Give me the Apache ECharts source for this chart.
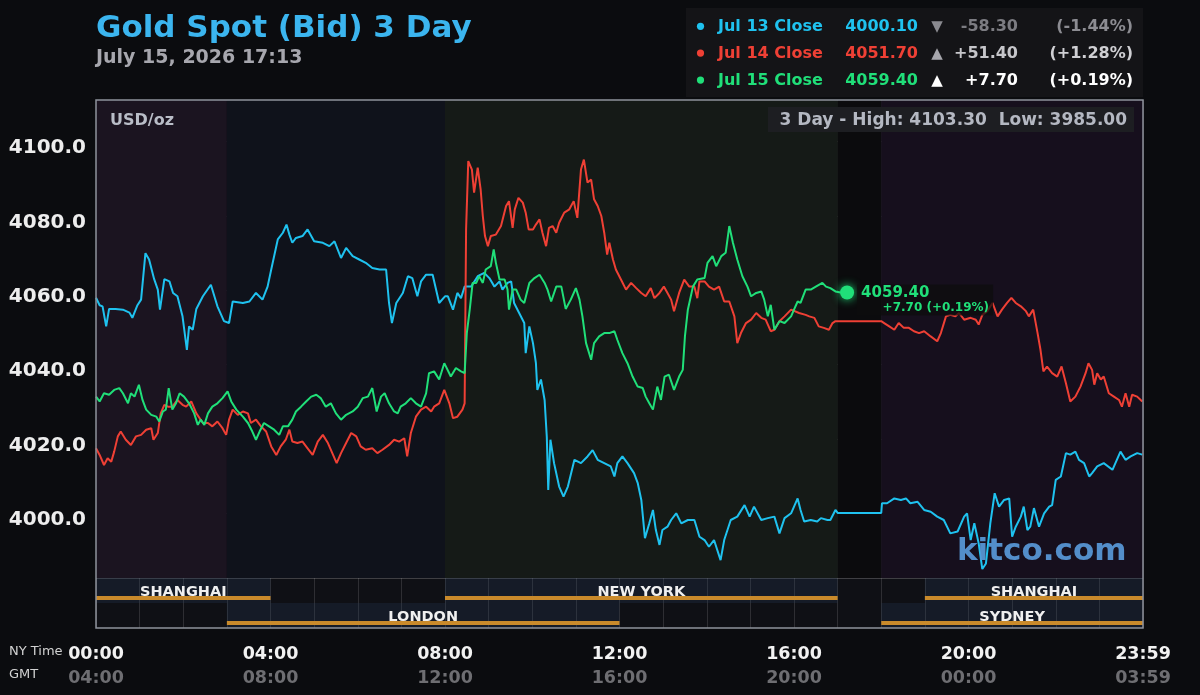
<!DOCTYPE html>
<html>
<head>
<meta charset="utf-8">
<title>Gold Spot (Bid) 3 Day</title>
<script src="https://cdn.jsdelivr.net/npm/echarts@6.0.0/dist/echarts.min.js"></script>
<style>
  html, body { margin: 0; padding: 0; background: #0b0c0f; }
  #chart { width: 1200px; height: 695px; }
</style>
</head>
<body>
<div id="chart"></div>
<script>
  /* ---------- data ---------- */
  // [minutes after 00:00 NY time, price]
  var jul13 = [
    [0,4058],[5,4056],[9,4055.7],[14,4050.3],[18,4055],[27,4055],[37,4054.8],[46,4054],[50,4052.6],[57,4056],
    [62,4057.5],[68,4070],[73,4068.3],[80,4063],[85,4060.2],[88,4054.8],[94,4063],[101,4062.4],[106,4059.3],[112,4058.4],
    [119,4053],[125,4044],[128,4050.3],[133,4049.4],[138,4055],[147,4058.4],[158,4061.5],[167,4055.7],[176,4051.7],[183,4051.2],
    [188,4057],[202,4056.6],[211,4057],[220,4059.3],[229,4057.5],[236,4061],[241,4065.6],[250,4073.7],[257,4075.5],[262,4077.7],
    [266,4075],[270,4072.8],[275,4074.1],[284,4074.6],[291,4076.4],[300,4073.2],[312,4072.8],[321,4071.9],[328,4073.2],[337,4068.7],
    [344,4071.4],[353,4069.2],[362,4068.3],[371,4067.4],[380,4066],[390,4065.6],[399,4065.6],[403,4056.6],[407,4051.2],[413,4056.6],
    [422,4059.3],[429,4063.8],[435,4063.3],[442,4058.4],[447,4062.4],[454,4064.2],[463,4064.2],[472,4056.6],[480,4058.4],
    [484,4058.4],[491,4054.8],[497,4059.3],[502,4057.9],[507,4061],[516,4061],[525,4063.8],[534,4064.7],[541,4063.3],[548,4061],
    [555,4062.4],[559,4060.2],[566,4062],[571,4062.4],[575,4056.6],[582,4053.9],[589,4051.2],[591,4043.1],[596,4050.3],[601,4045.8],
    [605,4040.5],[607,4033.2],[612,4036],[617,4030.5],[620,4020.6],[622,4006.3],[625,4019.8],[630,4013.5],[637,4007.2],[643,4004.5],
    [649,4007.2],[658,4014.4],[667,4013.5],[676,4015.3],[683,4017],[690,4014.4],[699,4013.5],[708,4012.6],[713,4009.9],[717,4013.5],
    [724,4015.3],[731,4013.5],[740,4010.8],[745,4008.2],[750,4003.6],[755,3993.3],[761,3997.3],[766,4000.9],[770,3995.5],[775,3991.5],
    [779,3995.5],[786,3996.4],[791,3998.2],[798,4000],[805,3997.3],[814,3998.2],[823,3998.2],[830,3993.7],[837,3992.8],[843,3991],
    [850,3992.8],[859,3987.4],[864,3992.8],[873,3998.2],[882,3999.1],[892,4002.2],[899,3999.1],[905,4001.8],[915,3998.2],[924,3998.7],
    [933,3999.1],[940,3994.6],[947,3998.7],[956,4000],[965,4004],[969,4000.9],[974,3997.8],[983,3998.2],[992,3997.8],[997,3998.7],
    [1006,3998.2],[1010,3998.2],[1017,4000.9],[1020,4000.1],[1080,4000.1],[1081,4002.7],[1088,4002.7],[1098,4004],[1107,4003.6],[1114,4004],
    [1120,4002.7],[1130,4003.1],[1139,4000.9],[1148,4000.4],[1157,3999.1],[1166,3998.2],[1175,3994.6],[1185,3995.1],[1194,3999.1],[1198,4000],
    [1203,3992.8],[1208,3997.3],[1214,3991.9],[1219,3985],[1224,3986.5],[1230,3997.3],[1236,4005.4],[1242,4001.8],[1249,4003.6],[1256,4004],
    [1260,3993.7],[1265,3996.4],[1272,3999.1],[1276,4001.8],[1281,3995.5],[1285,3996.4],[1290,4001.4],[1297,3996.4],[1304,4000],[1311,4001.8],
    [1315,4002.2],[1320,4009],[1327,4009.9],[1334,4016.2],[1340,4015.8],[1347,4016.6],[1352,4014.4],[1359,4013.5],[1366,4009.9],[1370,4010.8],
    [1377,4012.6],[1386,4013.5],[1398,4011.7],[1409,4016.6],[1416,4014.4],[1423,4015.3],[1432,4016.2],[1439,4015.8]
  ];

  var jul14 = [
    [0,4017.5],[5,4015.7],[11,4013],[16,4014.8],[21,4013.9],[25,4016.6],[30,4020.7],[34,4022],[41,4019.8],[48,4018.4],
    [55,4020.7],[62,4021.1],[69,4022.5],[76,4022.9],[79,4019.8],[85,4021.6],[89,4026.9],[94,4029.2],[99,4028.7],[105,4028.7],
    [112,4030.5],[119,4029.2],[124,4028.7],[131,4030.1],[138,4026.9],[147,4024.3],[154,4024.3],[160,4023.4],[167,4024.7],[174,4022.9],
    [179,4021.1],[183,4025.2],[188,4027.9],[195,4026.5],[202,4027.4],[209,4026.9],[213,4024.3],[220,4025.2],[227,4023.4],[234,4022],
    [241,4018],[248,4015.7],[254,4018],[261,4019.8],[266,4022.5],[270,4019.3],[277,4018.9],[284,4019.3],[291,4017.5],[298,4015.7],
    [305,4019.3],[312,4021.1],[319,4018.9],[325,4016.2],[331,4013.5],[337,4016.2],[344,4018.9],[351,4021.6],[358,4020.7],[364,4018],
    [371,4017.1],[380,4017.5],[387,4016.2],[394,4017.1],[403,4018.4],[410,4019.8],[417,4019.3],[424,4020.2],[428,4015.3],[433,4021.6],
    [440,4026],[447,4027.9],[454,4028.7],[461,4027.4],[465,4028.7],[472,4029.6],[479,4033.2],[481,4033.2],[486,4029.6],[491,4025.6],
    [497,4026],[504,4027.9],[507,4029.6],[509,4076.4],[512,4094.8],[517,4092.5],[520,4086.3],[525,4093],[529,4087.2],[532,4080],
    [535,4074.6],[539,4071.9],[543,4074.6],[550,4075],[557,4077.3],[564,4082.7],[568,4084],[573,4076.8],[576,4081.8],[581,4084.9],
    [587,4083.6],[591,4080.9],[595,4076.4],[601,4076.4],[605,4077.7],[610,4079.1],[614,4075.5],[619,4071.9],[623,4076.8],[628,4077.3],
    [633,4075.5],[637,4078.2],[644,4080.9],[651,4081.8],[657,4084],[662,4079.5],[667,4092.5],[671,4095.2],[676,4089],[681,4089.8],
    [685,4084.5],[690,4082.7],[695,4080],[699,4075.5],[703,4069.6],[706,4072.8],[711,4068.3],[715,4065.6],[722,4062.9],[729,4060.2],
    [736,4062],[743,4060.6],[750,4059.3],[756,4058.4],[763,4060.6],[768,4057.9],[775,4059.3],[781,4061],[786,4059.3],[791,4057.5],
    [795,4054.4],[802,4059.3],[809,4062.9],[816,4061],[823,4061],[827,4057.9],[830,4062.4],[837,4062.4],[843,4061],[850,4060.2],
    [857,4061],[864,4057],[871,4057],[878,4053],[882,4045.8],[887,4048.5],[894,4051.2],[901,4052.1],[908,4053.9],[915,4052.6],
    [921,4052.1],[928,4049],[933,4049.4],[940,4051.7],[947,4053],[956,4054.8],[967,4053.9],[976,4053.4],[981,4053],[988,4052.6],
    [994,4050.3],[1001,4049.9],[1008,4049.4],[1013,4051.2],[1017,4051.7],[1080,4051.7],[1084,4051.2],[1091,4050.3],[1098,4049.4],[1104,4051.2],
    [1111,4049.9],[1118,4049.9],[1125,4049],[1132,4048.5],[1139,4049],[1148,4047.6],[1157,4046.3],[1162,4048.5],[1169,4053],[1175,4053.4],
    [1182,4053],[1187,4053.9],[1194,4052.1],[1203,4052.6],[1210,4052.1],[1214,4050.8],[1219,4053.4],[1226,4054.4],[1233,4056.6],[1240,4053],
    [1246,4054.8],[1253,4056.6],[1259,4058],[1265,4056.6],[1272,4055.7],[1279,4054.4],[1283,4053],[1289,4054.8],[1295,4048.5],[1299,4044],
    [1303,4038.2],[1308,4039.5],[1315,4037.7],[1322,4036.8],[1328,4039.5],[1334,4035],[1340,4030.1],[1347,4031.4],[1354,4034.1],[1361,4037.7],
    [1365,4040.4],[1370,4038.6],[1373,4034.6],[1377,4037.7],[1382,4036],[1386,4036.8],[1393,4032.3],[1400,4031.4],[1407,4030.5],[1411,4028.7],
    [1416,4032.3],[1421,4028.7],[1425,4031.9],[1432,4031.4],[1439,4030.1]
  ];

  var jul15 = [
    [0,4031.4],[5,4030.1],[11,4032.3],[18,4031.9],[25,4033.2],[32,4033.7],[37,4032.3],[44,4029.6],[48,4032.3],[53,4031.4],
    [59,4034.6],[64,4030.5],[69,4027.9],[76,4026.5],[83,4026],[87,4024.7],[92,4027.4],[96,4027.9],[100,4033.7],[105,4027.9],
    [110,4029.6],[115,4032.3],[121,4031.4],[128,4029.6],[135,4026.9],[140,4023.8],[144,4025.2],[149,4023.8],[154,4026.9],[160,4028.7],
    [167,4029.6],[174,4031],[181,4032.8],[186,4030.1],[193,4027.9],[202,4026],[209,4024.3],[215,4022],[220,4019.8],[225,4022],
    [231,4024.3],[238,4023.4],[245,4022.5],[252,4021.1],[257,4023.4],[264,4023.4],[270,4025.2],[275,4027.4],[282,4028.7],[289,4030.1],
    [296,4031.4],[303,4031.9],[309,4031],[316,4028.7],[323,4029.6],[330,4026.9],[337,4025.2],[344,4026.5],[353,4027.4],[360,4028.7],
    [367,4031],[374,4031.4],[380,4033.7],[386,4027.4],[392,4031.4],[397,4032.3],[403,4029.6],[410,4027.4],[415,4026.9],[419,4028.7],
    [426,4029.6],[433,4031],[440,4029.6],[447,4028.7],[454,4032.3],[458,4037.7],[465,4038.2],[472,4036],[479,4040.4],[481,4040.5],
    [488,4036.8],[495,4039.1],[502,4038.2],[507,4037.7],[510,4048.5],[514,4054.8],[518,4062],[523,4062],[527,4063.8],[532,4062],
    [536,4065.6],[543,4066.5],[547,4071],[550,4067.4],[555,4062.9],[562,4062.9],[566,4060.2],[568,4054.8],[573,4060.2],[578,4060.2],
    [584,4057.5],[589,4056.6],[596,4062],[603,4063.3],[610,4064.2],[617,4062],[621,4060.2],[626,4057],[633,4061],[640,4061],
    [646,4055],[653,4057.5],[660,4060.6],[665,4057.5],[669,4053],[674,4045.8],[681,4041.3],[685,4045.8],[692,4047.6],[699,4048.5],
    [706,4048.5],[713,4049],[717,4046.7],[724,4043.1],[731,4040.4],[738,4036.8],[745,4034.1],[752,4033.7],[756,4031.4],[761,4029.6],
    [766,4027.9],[772,4034.1],[777,4030.5],[782,4036.8],[788,4037.3],[795,4033.2],[802,4036.8],[807,4038.6],[810,4047.6],[814,4054.8],
    [821,4061],[827,4062.9],[837,4063.3],[841,4067.4],[848,4069.2],[853,4066.5],[860,4069.2],[866,4070.1],[871,4077.3],[876,4072.8],
    [882,4068.3],[889,4063.8],[896,4061],[901,4058.4],[908,4059.3],[915,4059.7],[919,4057.5],[924,4053],[928,4056.1],[933,4049.4],
    [940,4051.7],[947,4051.2],[956,4053],[960,4054.8],[965,4057],[969,4056.6],[976,4060.2],[983,4060.2],[990,4061],[999,4062],
    [1004,4061],[1010,4060.6],[1017,4059.7],[1024,4059.4],[1033,4059.4]
  ];

  var nyTimeLabels = ['00:00', '04:00', '08:00', '12:00', '16:00', '20:00', '23:59'];
  var gmtTimeLabels = ['04:00', '08:00', '12:00', '16:00', '20:00', '00:00', '03:59'];

  var closeNames = ['Jul 13 Close', 'Jul 14 Close', 'Jul 15 Close'];
  var closeValues = ['4000.10', '4051.70', '4059.40'];
  var closeArrows = ['\u25BC', '\u25B2', '\u25B2'];
  var closeChanges = ['-58.30', '+51.40', '+7.70'];
  var closePercents = ['(-1.44%)', '(+1.28%)', '(+0.19%)'];

  // trading sessions: [row, start minute, end minute]
  var sessions = [
    { name: 'SHANGHAI', value: [0, 0, 240] },
    { name: 'NEW YORK', value: [0, 480, 1020] },
    { name: 'SHANGHAI', value: [0, 1140, 1440] },
    { name: 'LONDON', value: [1, 180, 720] },
    { name: 'SYDNEY', value: [1, 1080, 1440] }
  ];
  // background bands of the price area: [start minute, end minute]
  var shadeRanges = [[0, 180], [180, 480], [480, 1020], [1020, 1080], [1080, 1440]];

  var titleText = 'Gold Spot (Bid) 3 Day';
  var dateText = 'July 15, 2026 17:13';
  var unitText = 'USD/oz';
  var rangeText = '3 Day - High: 4103.30  Low: 3985.00';

  /* ---------- styles ---------- */
  var FONT = '"DejaVu Sans", Verdana, sans-serif';
  var lineColors = ['#1fc2ef', '#ef4035', '#20df79'];
  var shadeColors = ['#1b1420', '#0f121b', '#151a17', '#0b0b0d', '#160f1d'];
  var changeColors = ['#7c7c82', '#c6c6ca', '#ffffff'];
  var pctColors = ['#8c8c92', '#cfcfd3', '#ffffff'];
  var arrowColors = ['#8a8a90', '#a6a6ac', '#ffffff'];
  var gridColor = 'rgba(255,255,255,0.13)';

  var PLOT_L = 96, PLOT_R = 1143, PLOT_T = 100, PLOT_B = 628;

  function renderSession(params, api) {
    var row = api.value(0);
    var a = api.coord([api.value(1), row]);
    var b = api.coord([api.value(2), row]);
    var h = api.size([0, 1])[1];
    var top = a[1] - h / 2;
    var w = b[0] - a[0];
    return {
      type: 'group',
      children: [
        { type: 'rect', shape: { x: a[0], y: top, width: w, height: h }, style: { fill: 'rgba(40,60,92,0.26)' } },
        { type: 'rect', shape: { x: a[0], y: top + h - 7, width: w, height: 4 }, style: { fill: '#c98a2b' } },
        {
          type: 'text', x: (a[0] + b[0]) / 2, y: top + 14.7,
          style: {
            text: sessions[params.dataIndex].name, align: 'center', verticalAlign: 'middle',
            fill: '#f0f0f0', font: 'bold 14.5px ' + FONT
          }
        }
      ]
    };
  }

  // legend (top right)
  var legendRowsY = [27.3, 54.1, 81.1];
  var legendGraphics = [
    { type: 'rect', shape: { x: 686, y: 8, width: 457, height: 89 }, style: { fill: '#141417' }, z: 5 }
  ];
  closeNames.forEach(function (name, i) {
    var y = legendRowsY[i];
    legendGraphics.push(
      { type: 'circle', shape: { cx: 700.5, cy: y - 1, r: 3.6 }, style: { fill: lineColors[i] }, z: 6 },
      { type: 'text', x: 718, y: y, style: { text: name, fill: lineColors[i], font: 'bold 16px ' + FONT, verticalAlign: 'middle' }, z: 6 },
      { type: 'text', x: 918, y: y, style: { text: closeValues[i], fill: lineColors[i], font: 'bold 16px ' + FONT, align: 'right', verticalAlign: 'middle' }, z: 6 },
      { type: 'text', x: 937, y: y, style: { text: closeArrows[i], fill: arrowColors[i], font: 'bold 15px ' + FONT, align: 'center', verticalAlign: 'middle' }, z: 6 },
      { type: 'text', x: 1018, y: y, style: { text: closeChanges[i], fill: changeColors[i], font: 'bold 16px ' + FONT, align: 'right', verticalAlign: 'middle' }, z: 6 },
      { type: 'text', x: 1133, y: y, style: { text: closePercents[i], fill: pctColors[i], font: 'bold 16px ' + FONT, align: 'right', verticalAlign: 'middle' }, z: 6 }
    );
  });

  var chart = echarts.init(document.getElementById('chart'));

  var lastPoint = jul15[jul15.length - 1];

  var option = {
    backgroundColor: '#0b0c0f',
    animation: false,
    textStyle: { fontFamily: FONT },
    grid: [
      { left: PLOT_L, right: 1200 - PLOT_R, top: PLOT_T, height: 478 },
      { left: PLOT_L, right: 1200 - PLOT_R, top: 578, height: PLOT_B - 578, show: true, backgroundColor: '#0f1015', borderWidth: 0 }
    ],
    xAxis: [
      {
        gridIndex: 0, type: 'value', min: 0, max: 1440, interval: 60, z: 1,
        axisLine: { show: false }, axisTick: { show: false }, axisLabel: { show: false },
        splitLine: { show: true, lineStyle: { color: gridColor, width: 1 } }
      },
      {
        gridIndex: 1, type: 'value', min: 0, max: 1440, interval: 60, z: 1,
        axisLine: { show: false }, axisTick: { show: false },
        splitLine: { show: true, lineStyle: { color: gridColor, width: 1 } },
        axisLabel: {
          margin: 14,
          formatter: function (v) {
            if (v % 240 !== 0) return '';
            var i = v / 240;
            return '{ny|' + nyTimeLabels[i] + '}\n{gmt|' + gmtTimeLabels[i] + '}';
          },
          rich: {
            ny: { color: '#f2f2f2', fontSize: 17.5, fontWeight: 'bold', fontFamily: FONT, lineHeight: 24 },
            gmt: { color: '#6e6e72', fontSize: 17.5, fontWeight: 'bold', fontFamily: FONT, lineHeight: 24 }
          }
        }
      }
    ],
    yAxis: [
      {
        gridIndex: 0, type: 'value', min: 3982.59, max: 4111.22, splitNumber: 6, z: 1,
        axisLine: { show: false }, axisTick: { show: false },
        splitLine: { show: true, lineStyle: { color: 'rgba(255,255,255,0.2)', width: 1 } },
        axisLabel: {
          showMinLabel: false, showMaxLabel: false, margin: 10,
          color: '#ededed', fontSize: 20, fontWeight: 'bold', fontFamily: FONT,
          verticalAlign: 'top', lineHeight: 13,
          formatter: function (v) { return v.toFixed(1); }
        }
      },
      { gridIndex: 1, type: 'category', data: ['row1', 'row2'], inverse: true, show: false }
    ],
    series: [
      {
        type: 'line', xAxisIndex: 0, yAxisIndex: 0, data: [], z: 0, silent: true,
        markArea: {
          silent: true,
          data: shadeRanges.map(function (r, i) {
            return [{ xAxis: r[0], itemStyle: { color: shadeColors[i] } }, { xAxis: r[1] }];
          })
        }
      },
      {
        name: 'Jul 13', type: 'line', data: jul13, showSymbol: false, symbol: 'none', z: 3, silent: true,
        lineStyle: { width: 2, color: lineColors[0] }, itemStyle: { color: lineColors[0] }
      },
      {
        name: 'Jul 14', type: 'line', data: jul14, showSymbol: false, symbol: 'none', z: 3, silent: true,
        lineStyle: { width: 2, color: lineColors[1] }, itemStyle: { color: lineColors[1] }
      },
      {
        name: 'Jul 15', type: 'line', data: jul15, showSymbol: false, symbol: 'none', z: 4, silent: true,
        lineStyle: { width: 2, color: lineColors[2] }, itemStyle: { color: lineColors[2] },
        markPoint: {
          silent: true,
          symbol: 'circle', symbolSize: 14,
          itemStyle: { color: lineColors[2], shadowBlur: 10, shadowColor: lineColors[2] },
          data: [{ coord: lastPoint }],
          label: {
            show: true, position: 'right', distance: 3, offset: [0, 7.5],
            width: 128, backgroundColor: 'rgba(14,14,14,0.75)', padding: [1, 4, 1, 4],
            formatter: '{v|' + closeValues[2] + '}\n{c|' + closeChanges[2] + ' ' + closePercents[2] + '}',
            rich: {
              v: { fontSize: 15, fontWeight: 'bold', color: lineColors[2], align: 'left', lineHeight: 16, fontFamily: FONT },
              c: { fontSize: 12, fontWeight: 'bold', color: lineColors[2], align: 'right', lineHeight: 13, fontFamily: FONT }
            }
          }
        }
      },
      {
        type: 'custom', xAxisIndex: 1, yAxisIndex: 1, data: sessions, silent: true, z: 2,
        encode: { x: [1, 2], y: 0 },
        renderItem: renderSession
      }
    ],
    graphic: legendGraphics.concat([
      { type: 'text', x: 96, y: 28.5, style: { text: titleText, fill: '#3bb5ef', font: 'bold 31px ' + FONT, verticalAlign: 'middle' } },
      { type: 'text', x: 96, y: 58, style: { text: dateText, fill: '#a7a7ae', font: 'bold 19px ' + FONT, verticalAlign: 'middle' } },
      { type: 'rect', shape: { x: PLOT_L, y: PLOT_T, width: PLOT_R - PLOT_L, height: PLOT_B - PLOT_T }, style: { fill: 'none', stroke: '#8e929c', lineWidth: 1.5 }, z: 10 },
      { type: 'text', x: 110, y: 120.4, style: { text: unitText, fill: '#b9bdc7', font: 'bold 16px ' + FONT, verticalAlign: 'middle' }, z: 10 },
      { type: 'rect', shape: { x: 768, y: 107, width: 366, height: 25 }, style: { fill: '#1d1e22' }, z: 9 },
      { type: 'text', x: 1127, y: 120.6, style: { text: rangeText, fill: '#b4b8c2', font: 'bold 17px ' + FONT, align: 'right', verticalAlign: 'middle' }, z: 10 },
      { type: 'text', x: 957, y: 552, style: { text: 'kitco.com', fill: 'rgba(88,152,215,0.93)', font: 'bold 31px ' + FONT, verticalAlign: 'middle' }, z: 10 },
      { type: 'text', x: 9, y: 651.4, style: { text: 'NY Time', fill: '#d2d2d2', font: '13px ' + FONT, verticalAlign: 'middle' }, z: 10 },
      { type: 'text', x: 9, y: 674.6, style: { text: 'GMT', fill: '#d2d2d2', font: '13px ' + FONT, verticalAlign: 'middle' }, z: 10 }
    ])
  };

  chart.setOption(option);

  window.addEventListener('resize', function () {
    chart.resize();
  });
</script>
</body>
</html>
